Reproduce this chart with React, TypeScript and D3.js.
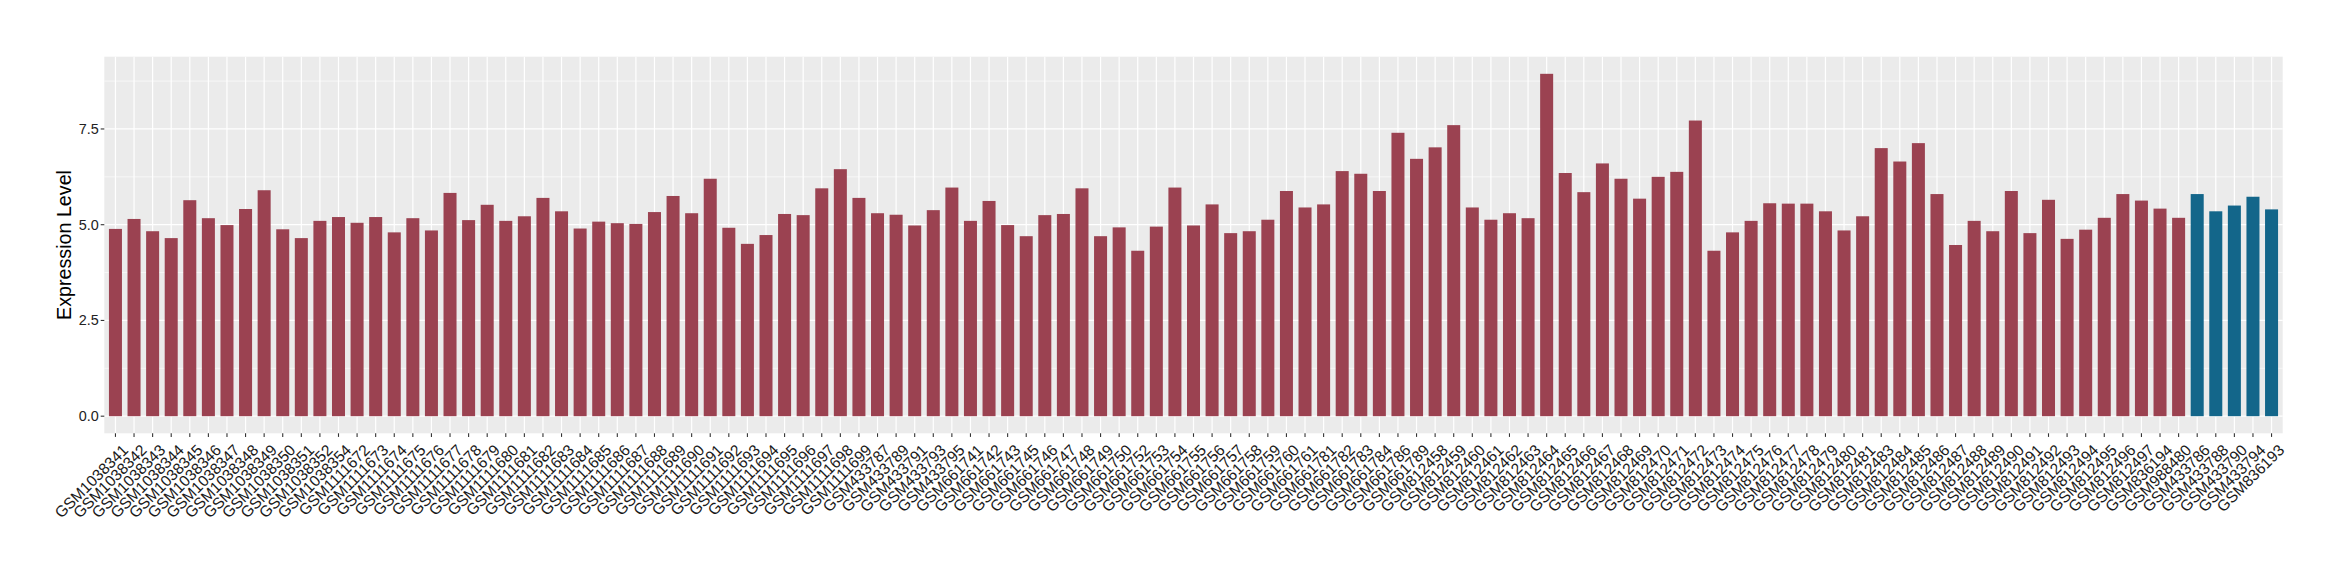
import React from "react";
import * as d3 from "d3";

const samples: string[] = [
  "GSM1038341","GSM1038342","GSM1038343","GSM1038344","GSM1038345","GSM1038346","GSM1038347","GSM1038348","GSM1038349","GSM1038350",
  "GSM1038351","GSM1038352","GSM1038354","GSM1111672","GSM1111673","GSM1111674","GSM1111675","GSM1111676","GSM1111677","GSM1111678",
  "GSM1111679","GSM1111680","GSM1111681","GSM1111682","GSM1111683","GSM1111684","GSM1111685","GSM1111686","GSM1111687","GSM1111688",
  "GSM1111689","GSM1111690","GSM1111691","GSM1111692","GSM1111693","GSM1111694","GSM1111695","GSM1111696","GSM1111697","GSM1111698",
  "GSM1111699","GSM433787","GSM433789","GSM433791","GSM433793","GSM433795","GSM661741","GSM661742","GSM661743","GSM661745",
  "GSM661746","GSM661747","GSM661748","GSM661749","GSM661750","GSM661752","GSM661753","GSM661754","GSM661755","GSM661756",
  "GSM661757","GSM661758","GSM661759","GSM661760","GSM661761","GSM661781","GSM661782","GSM661783","GSM661784","GSM661786",
  "GSM661789","GSM812458","GSM812459","GSM812460","GSM812461","GSM812462","GSM812463","GSM812464","GSM812465","GSM812466",
  "GSM812467","GSM812468","GSM812469","GSM812470","GSM812471","GSM812472","GSM812473","GSM812474","GSM812475","GSM812476",
  "GSM812477","GSM812478","GSM812479","GSM812480","GSM812481","GSM812483","GSM812484","GSM812485","GSM812486","GSM812487",
  "GSM812488","GSM812489","GSM812490","GSM812491","GSM812492","GSM812493","GSM812494","GSM812495","GSM812496","GSM812497",
  "GSM836194","GSM988480","GSM433786","GSM433788","GSM433790","GSM433794","GSM836193",
];

const expression: number[] = [
  4.89, 5.15, 4.83, 4.65, 5.64, 5.17, 4.99, 5.41, 5.9, 4.88,
  4.65, 5.1, 5.2, 5.05, 5.2, 4.8, 5.17, 4.85, 5.83, 5.12,
  5.52, 5.1, 5.22, 5.7, 5.35, 4.9, 5.08, 5.04, 5.02, 5.33,
  5.75, 5.3, 6.2, 4.92, 4.5, 4.73, 5.28, 5.25, 5.95, 6.45,
  5.7, 5.3, 5.26, 4.98, 5.38, 5.97, 5.1, 5.62, 4.99, 4.7,
  5.25, 5.28, 5.95, 4.7, 4.93, 4.32, 4.95, 5.97, 4.98, 5.53,
  4.78, 4.83, 5.13, 5.88, 5.45, 5.53, 6.4, 6.33, 5.88, 7.4,
  6.72, 7.02, 7.6, 5.45, 5.13, 5.3, 5.17, 8.94, 6.35, 5.85,
  6.6, 6.2, 5.68, 6.25, 6.38, 7.72, 4.32, 4.8, 5.1, 5.56,
  5.55, 5.55, 5.35, 4.85, 5.22, 7.0, 6.65, 7.13, 5.8, 4.47,
  5.1, 4.83, 5.88, 4.78, 5.65, 4.63, 4.87, 5.18, 5.8, 5.63,
  5.42, 5.18, 5.8, 5.35, 5.5, 5.73, 5.4,
];

const highlighted: string[] = ["GSM433786", "GSM433788", "GSM433790", "GSM433794", "GSM836193"];

const yTicks: number[] = [0, 2.5, 5, 7.5];
const yMinorTicks: number[] = [1.25, 3.75, 6.25, 8.75];

const W = 2340;
const H = 580;
const panel = { left: 104.3, right: 2282.7, top: 56.7, bottom: 433.3 };
const FONT = "'Liberation Sans', Arial, Helvetica, sans-serif";
const RED = "#9B4251";
const BLUE = "#13668A";

export default function App() {
  const yMax = d3.max(expression) as number;
  const pad = yMax * 0.05;
  const y = d3.scaleLinear().domain([-pad, yMax + pad]).range([panel.bottom, panel.top]);
  const x = d3
    .scaleBand<string>()
    .domain(samples)
    .range([panel.left, panel.right])
    .paddingInner(0.3)
    .paddingOuter(0.25);
  const bw = x.bandwidth();

  return (
    <svg
      width={W}
      height={H}
      style={{ position: "absolute", left: 0, top: 0, background: "#fff" }}
      fontFamily={FONT}
    >
      <rect
        x={panel.left}
        y={panel.top}
        width={panel.right - panel.left}
        height={panel.bottom - panel.top}
        fill="#EBEBEB"
      />
      {yMinorTicks.map((t) => (
        <line key={"mn" + t} x1={panel.left} x2={panel.right} y1={y(t)} y2={y(t)} stroke="#fff" strokeWidth={0.6} />
      ))}
      {yTicks.map((t) => (
        <line key={"mj" + t} x1={panel.left} x2={panel.right} y1={y(t)} y2={y(t)} stroke="#fff" strokeWidth={1.2} />
      ))}
      {samples.map((s) => {
        const cx = (x(s) as number) + bw / 2;
        return <line key={"vg" + s} x1={cx} x2={cx} y1={panel.top} y2={panel.bottom} stroke="#fff" strokeWidth={1.2} />;
      })}
      {samples.map((s, i) => (
        <rect
          key={"b" + s}
          x={x(s) as number}
          y={y(expression[i])}
          width={bw}
          height={y(0) - y(expression[i])}
          fill={highlighted.includes(s) ? BLUE : RED}
        />
      ))}
      {yTicks.map((t) => (
        <g key={"yt" + t}>
          <line x1={panel.left - 3.6} x2={panel.left} y1={y(t)} y2={y(t)} stroke="#333" strokeWidth={1.1} />
          <text
            x={panel.left - 5.5}
            y={y(t)}
            dy="0.35em"
            textAnchor="end"
            fontSize={14.4}
            fill="#222"
          >
            {t.toFixed(1)}
          </text>
        </g>
      ))}
      {samples.map((s) => {
        const cx = (x(s) as number) + bw / 2;
        return (
          <g key={"xt" + s}>
            <line x1={cx} x2={cx} y1={panel.bottom} y2={panel.bottom + 3.6} stroke="#333" strokeWidth={1.1} />
            <text
              transform={`translate(${cx + 6},${panel.bottom + 10}) rotate(-45)`}
              dy="0.7em"
              textAnchor="end"
              fontSize={15.6}
              fill="#1a1a1a"
            >
              {s}
            </text>
          </g>
        );
      })}
      <text
        transform={`translate(71,${(panel.top + panel.bottom) / 2}) rotate(-90)`}
        textAnchor="middle"
        fontSize={19.7}
        fill="#000"
      >
        Expression Level
      </text>
    </svg>
  );
}
